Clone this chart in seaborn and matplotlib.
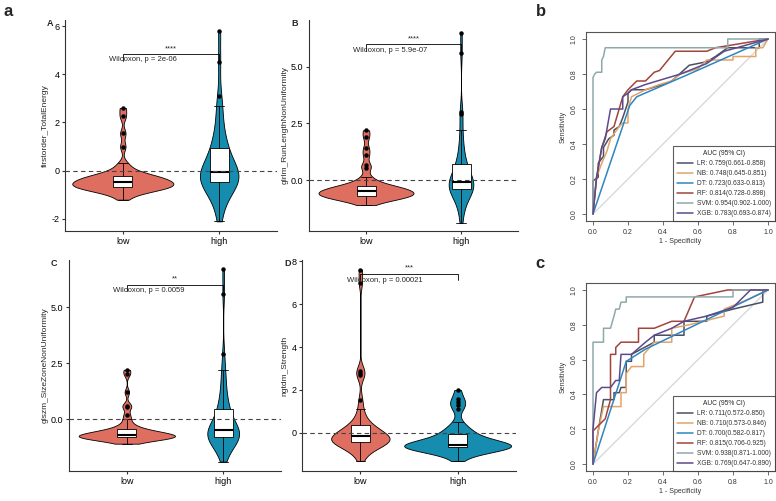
import numpy as np
import pandas as pd
import matplotlib
matplotlib.use("Agg")
import matplotlib.pyplot as plt
import seaborn as sns

sns.set_style("white")
plt.rcParams['font.family'] = ['Liberation Sans', 'DejaVu Sans']

# ---- data ----
groups = ["low", "high"]
low_col = "#DE6E5F"
high_col = "#168CAF"

# A firstorder_TotalEnergy
a_low = [-1.2, -1.0, -0.9, -0.85, -0.8, -0.78, -0.75, -0.72, -0.7, -0.68, -0.67, -0.65, -0.64, -0.62,
         -0.6, -0.58, -0.55, -0.52, -0.5, -0.48, -0.45, -0.42, -0.4, -0.38, -0.35, -0.32, -0.3, -0.28,
         -0.25, -0.22, -0.2, -0.15, -0.1, 0.0, 0.15, 0.3, 1.0, 1.55, 2.25, 2.6]
a_high = [-2.1, -1.6, -1.3, -1.1, -0.9, -0.8, -0.7, -0.6, -0.55, -0.5, -0.45, -0.4, -0.35, -0.3, -0.3,
          -0.25, -0.2, -0.15, -0.1, -0.05, 0.0, 0.05, 0.1, 0.2, 0.3, 0.45, 0.6, 0.75, 0.9, 1.0, 1.1,
          1.3, 1.6, 1.9, 2.3, 2.7, 3.1, 4.5, 5.8]
# B glrlm_RunLengthNonUniformity
b_low = [-1.1, -0.95, -0.9, -0.85, -0.82, -0.8, -0.78, -0.75, -0.72, -0.7, -0.7, -0.68, -0.66, -0.64,
         -0.62, -0.6, -0.58, -0.55, -0.52, -0.5, -0.5, -0.48, -0.45, -0.42, -0.4, -0.38, -0.35, -0.32,
         -0.3, -0.28, -0.25, -0.2, -0.1, 0.0, 0.15, 0.55, 0.65, 1.1, 1.4, 1.9, 2.2]
b_high = [-1.9, -1.5, -1.2, -1.0, -0.85, -0.75, -0.65, -0.55, -0.5, -0.45, -0.4, -0.38, -0.35, -0.3,
          -0.28, -0.25, -0.2, -0.15, -0.1, -0.08, -0.05, -0.02, 0.05, 0.1, 0.2, 0.3, 0.4, 0.5, 0.6,
          0.7, 0.8, 1.0, 1.2, 1.5, 1.8, 2.2, 2.9, 3.0, 5.6, 6.5]
# C glszm_SizeZoneNonUniformity
c_low = [-1.1, -1.0, -0.95, -0.92, -0.9, -0.88, -0.86, -0.85, -0.84, -0.83, -0.82, -0.8, -0.8, -0.78,
         -0.77, -0.76, -0.75, -0.73, -0.72, -0.7, -0.7, -0.68, -0.66, -0.64, -0.62, -0.6, -0.58, -0.55,
         -0.52, -0.48, -0.45, -0.4, -0.3, -0.2, 0.0, 0.2, 0.55, 0.6, 1.2, 2.0, 2.2]
c_high = [-1.9, -1.6, -1.4, -1.2, -1.1, -1.0, -0.95, -0.9, -0.85, -0.82, -0.8, -0.78, -0.75, -0.72,
          -0.7, -0.68, -0.65, -0.6, -0.55, -0.52, -0.5, -0.45, -0.4, -0.3, -0.2, -0.1, 0.0, 0.15, 0.3,
          0.45, 0.5, 0.7, 0.9, 1.2, 1.5, 1.9, 2.2, 2.9, 5.6, 6.7]
# D ngtdm_Strength
d_low = [-1.3, -1.0, -0.85, -0.75, -0.65, -0.6, -0.55, -0.5, -0.48, -0.45, -0.42, -0.4, -0.38, -0.35,
         -0.32, -0.3, -0.28, -0.25, -0.2, -0.18, -0.15, -0.12, -0.1, -0.05, 0.0, 0.05, 0.1, 0.15, 0.2,
         0.3, 0.35, 0.45, 0.6, 0.8, 1.1, 1.55, 2.7, 2.8, 2.9, 7.0, 7.6]
d_high = [-1.3, -1.05, -0.9, -0.85, -0.8, -0.78, -0.75, -0.72, -0.7, -0.68, -0.66, -0.65, -0.64, -0.62,
          -0.6, -0.6, -0.58, -0.57, -0.56, -0.55, -0.55, -0.52, -0.5, -0.45, -0.4, -0.35, -0.3, -0.25,
          -0.15, -0.05, 0.0, 0.05, 0.15, 0.3, 0.5, 1.1, 1.3, 1.45, 1.6, 2.0]

violin_labels = ["A", "B", "C", "D"]
violin_ylabels = ["firstorder_TotalEnergy", "glrlm_RunLengthNonUniformity",
                  "glszm_SizeZoneNonUniformity", "ngtdm_Strength"]
stars = ["****", "****", "**", "***"]
pvalues = ["Wilcoxon, p = 2e-06", "Wilcoxon, p = 5.9e-07", "Wilcoxon, p = 0.0059", "Wilcoxon, p = 0.00021"]
bracket_y = [4.83, 6.0, 6.0, 7.4]
ptext_y = [4.63, 5.73, 5.73, 7.08]

# ROC curves (1 - specificity, sensitivity)
models = ["LR", "NB", "DT", "RF", "SVM", "XGB"]
roc_colors = ["#4a4f63", "#e3a468", "#2e86c1", "#a0453c", "#8fa9ab", "#5c4b8b"]

train_fpr = {
    "LR": [0, 0, 0.03, 0.03, 0.06, 0.06, 0.09, 0.12, 0.12, 0.15, 0.17, 0.2, 0.2, 0.22, 0.3, 0.4, 0.45, 0.55, 0.65, 0.7, 0.77, 0.95, 0.95, 1],
    "NB": [0, 0.02, 0.05, 0.08, 0.1, 0.15, 0.17, 0.2, 0.2, 0.22, 0.3, 0.38, 0.45, 0.5, 0.6, 0.65, 0.8, 0.8, 0.93, 0.93, 0.97, 1],
    "DT": [0, 0.21, 0.25, 0.55, 1],
    "RF": [0, 0.02, 0.05, 0.08, 0.12, 0.17, 0.2, 0.25, 0.3, 0.35, 0.38, 0.47, 0.65, 0.7, 1],
    "SVM": [0, 0, 0.01, 0.02, 0.05, 0.05, 0.06, 0.07, 0.77, 0.77, 1],
    "XGB": [0, 0.02, 0.05, 0.07, 0.1, 0.17, 0.17, 0.2, 0.22, 0.3, 0.5, 0.65, 0.75, 1],
}
train_tpr = {
    "LR": [0, 0.19, 0.21, 0.29, 0.33, 0.38, 0.43, 0.45, 0.48, 0.5, 0.55, 0.64, 0.69, 0.71, 0.71, 0.74, 0.76, 0.85, 0.87, 0.9, 0.95, 0.95, 1.0, 1],
    "NB": [0, 0.21, 0.29, 0.36, 0.43, 0.5, 0.52, 0.52, 0.6, 0.67, 0.71, 0.74, 0.76, 0.8, 0.83, 0.88, 0.88, 0.9, 0.9, 0.95, 0.95, 1],
    "DT": [0, 0.62, 0.67, 0.8, 1],
    "RF": [0, 0.2, 0.38, 0.47, 0.5, 0.67, 0.71, 0.76, 0.76, 0.81, 0.82, 0.93, 0.93, 0.95, 1],
    "SVM": [0, 0.78, 0.8, 0.81, 0.81, 0.88, 0.9, 0.95, 0.95, 1.0, 1],
    "XGB": [0, 0.21, 0.38, 0.43, 0.6, 0.6, 0.67, 0.69, 0.71, 0.74, 0.8, 0.86, 0.93, 1],
}
train_auc = ["0.759(0.661-0.858)", "0.748(0.645-0.851)", "0.723(0.633-0.813)",
             "0.814(0.728-0.898)", "0.954(0.902-1.000)", "0.783(0.693-0.874)"]

test_fpr = {
    "LR": [0, 0.03, 0.06, 0.12, 0.12, 0.15, 0.16, 0.19, 0.19, 0.22, 0.22, 0.35, 0.35, 0.52, 0.52, 0.65, 0.65, 0.8, 0.97, 0.97, 1],
    "NB": [0, 0.03, 0.06, 0.16, 0.16, 0.19, 0.19, 0.22, 0.29, 0.29, 0.35, 0.45, 0.45, 0.55, 0.75, 0.75, 0.85, 1],
    "DT": [0, 0.19, 0.3, 1],
    "RF": [0, 0, 0.07, 0.1, 0.1, 0.13, 0.13, 0.16, 0.26, 0.26, 0.35, 0.45, 0.52, 0.58, 0.77, 1],
    "SVM": [0, 0, 0.06, 0.06, 0.1, 0.12, 0.13, 0.15, 0.16, 0.19, 0.19, 0.8, 0.8, 1],
    "XGB": [0, 0, 0.02, 0.05, 0.1, 0.13, 0.15, 0.16, 0.22, 0.3, 0.35, 0.45, 0.52, 0.65, 0.8, 0.9, 1],
}
test_tpr = {
    "LR": [0, 0.19, 0.37, 0.37, 0.41, 0.41, 0.44, 0.44, 0.59, 0.59, 0.63, 0.7, 0.74, 0.74, 0.82, 0.82, 0.85, 0.89, 0.93, 1.0, 1],
    "NB": [0, 0.19, 0.33, 0.33, 0.41, 0.41, 0.52, 0.56, 0.56, 0.63, 0.7, 0.7, 0.78, 0.8, 0.85, 0.89, 0.93, 1],
    "DT": [0, 0.59, 0.66, 1],
    "RF": [0, 0.19, 0.26, 0.37, 0.63, 0.63, 0.67, 0.7, 0.7, 0.78, 0.78, 0.82, 0.82, 0.96, 1.0, 1],
    "SVM": [0, 0.7, 0.7, 0.78, 0.78, 0.85, 0.89, 0.89, 0.93, 0.93, 0.96, 0.96, 1.0, 1],
    "XGB": [0, 0.2, 0.41, 0.44, 0.44, 0.48, 0.48, 0.63, 0.63, 0.7, 0.74, 0.78, 0.82, 0.85, 0.9, 1.0, 1],
}
test_auc = ["0.711(0.572-0.850)", "0.710(0.573-0.846)", "0.700(0.582-0.817)",
            "0.815(0.706-0.925)", "0.938(0.871-1.000)", "0.769(0.647-0.890)"]

# ---- figure ----
W, H = 776, 501
fig = plt.figure(figsize=(W / 100, H / 100), dpi=100)


def px_axes(x0, y0, x1, y1):
    return fig.add_axes([x0 / W, 1 - y1 / H, (x1 - x0) / W, (y1 - y0) / H])


def nrd0_adjust(vals):
    # R's bw.nrd0 relative to scipy's scott factor (a bit smoother for the sparse tails)
    v = np.asarray(vals, dtype=float)
    sd = v.std(ddof=1)
    iqr = np.subtract(*np.percentile(v, [75, 25]))
    return 1.25 * 0.9 * min(sd, iqr / 1.34) / sd


violin_data = [(a_low, a_high), (b_low, b_high), (c_low, c_high), (d_low, d_high)]
violin_boxes = [(65, 20, 277, 231), (309, 20, 518, 231), (69, 260, 281, 471), (302, 260, 516, 471)]
violin_ylims = [(-2.5, 6.25), (-2.25, 7.07), (-2.32, 7.1), (-1.77, 8.05)]
violin_ticks = [[-2, 0, 2, 4, 6], [0, 2.5, 5.0], [0, 2.5, 5.0], [0, 2, 4, 6, 8]]
violin_fmt = ["{:.0f}", "{:.1f}", "{:.1f}", "{:.0f}"]
# widest part of each violin, in category units (low, high)
violin_width = [(1.05, 0.4), (1.0, 0.26), (1.0, 0.33), (0.6, 1.1)]

for i in range(4):
    ax = px_axes(*violin_boxes[i])
    lo, hi = violin_data[i]
    for g, vals, col, wd in zip(groups, [lo, hi], [low_col, high_col], violin_width[i]):
        sns.violinplot(x=[g] * len(vals), y=vals, order=groups, color=col, saturation=1,
                       inner=None, cut=0, width=wd, bw_adjust=nrd0_adjust(vals),
                       linewidth=0.6, linecolor="black", ax=ax)
    df = pd.DataFrame({"group": ["low"] * len(lo) + ["high"] * len(hi), "value": lo + hi})
    sns.boxplot(data=df, x="group", y="value", order=groups, width=0.2, color="white",
                linecolor="black", linewidth=0.6, fliersize=2.2,
                flierprops=dict(marker="o", markerfacecolor="black", markeredgecolor="black"),
                medianprops=dict(linewidth=1.5), ax=ax)
    ax.axhline(0, ls=(0, (4, 3)), color="#444444", lw=0.8, zorder=5)
    by = bracket_y[i]
    span = violin_ylims[i][1] - violin_ylims[i][0]
    d = 0.03 * span
    ax.plot([0, 0, 1, 1], [by - d, by, by, by - d], color="black", lw=0.6)
    ax.text(0.5, by + 0.01 * span, stars[i], ha="center", va="bottom", fontsize=5.5)
    ax.text(-0.14, ptext_y[i], pvalues[i], ha="left", va="center", fontsize=5.5)
    ax.set_xlim(-0.6, 1.6)
    ax.set_ylim(*violin_ylims[i])
    ax.set_yticks(violin_ticks[i])
    ax.set_yticklabels([violin_fmt[i].format(t) for t in violin_ticks[i]])
    ax.set_xlabel("")
    ax.set_ylabel(violin_ylabels[i], fontsize=6, labelpad=2)
    sns.despine(ax=ax)
    for s in ["left", "bottom"]:
        ax.spines[s].set_linewidth(0.8)
        ax.spines[s].set_color("#333333")
    ax.tick_params(direction="out", length=2.5, width=0.8, labelsize=6.5, pad=1.5,
                   left=True, bottom=True, colors="#333333", labelcolor="black")
    x0, y0 = violin_boxes[i][0], violin_boxes[i][1]
    fig.text((x0 - 18) / W, 1 - (y0 + 4) / H, violin_labels[i], fontsize=6.5,
             fontweight="bold", ha="left", va="center")

fig.text(3 / W, 1 - 11 / H, "a", fontsize=12, fontweight="bold", ha="left", va="center")


def roc_panel(box, fprs, tprs, aucs, letter):
    ax = px_axes(*box)
    ax.plot([0, 1], [0, 1], color="#d9d9d9", lw=1)
    for m, col, auc in zip(models, roc_colors, aucs):
        sns.lineplot(x=fprs[m], y=tprs[m], sort=False, estimator=None, color=col, lw=1.1,
                     ax=ax, label=f"{m}: {auc}")
    ax.set_xlim(-0.04, 1.04)
    ax.set_ylim(-0.04, 1.04)
    ticks = [0, 0.2, 0.4, 0.6, 0.8, 1.0]
    ax.set_xticks(ticks)
    ax.set_yticks(ticks)
    ax.set_xticklabels([f"{t:.1f}" for t in ticks])
    ax.set_yticklabels([f"{t:.1f}" for t in ticks], rotation=90, va="center")
    for s in ax.spines.values():
        s.set_visible(True)
        s.set_linewidth(0.8)
        s.set_color("#555555")
    ax.tick_params(direction="out", length=3, width=0.6, labelsize=5, pad=3,
                   left=True, bottom=True, colors="#555555", labelcolor="#333333")
    ax.set_xlabel("1 - Specificity", fontsize=5, labelpad=1, color="#333333")
    ax.set_ylabel("Sensitivity", fontsize=5, labelpad=3, color="#333333")
    leg = ax.legend(title="AUC (95% CI)", loc="lower right", borderaxespad=0, frameon=True,
                    fancybox=False, edgecolor="#333333", fontsize=4.8, title_fontsize=4.8,
                    handlelength=2.4, labelspacing=0.45, borderpad=0.6, handletextpad=0.6)
    leg.get_frame().set_linewidth(0.8)
    for t in leg.get_texts():
        t.set_color("#333333")
    fig.text(box[0] / W - 0.065, 1 - (box[1] - 20) / H, letter, fontsize=12, fontweight="bold",
             ha="left", va="center")
    return ax


roc_panel((586, 32, 775, 221), train_fpr, train_tpr, train_auc, "b")
roc_panel((586, 283, 775, 471), test_fpr, test_tpr, test_auc, "c")

fig.savefig("out.png", dpi=100)
